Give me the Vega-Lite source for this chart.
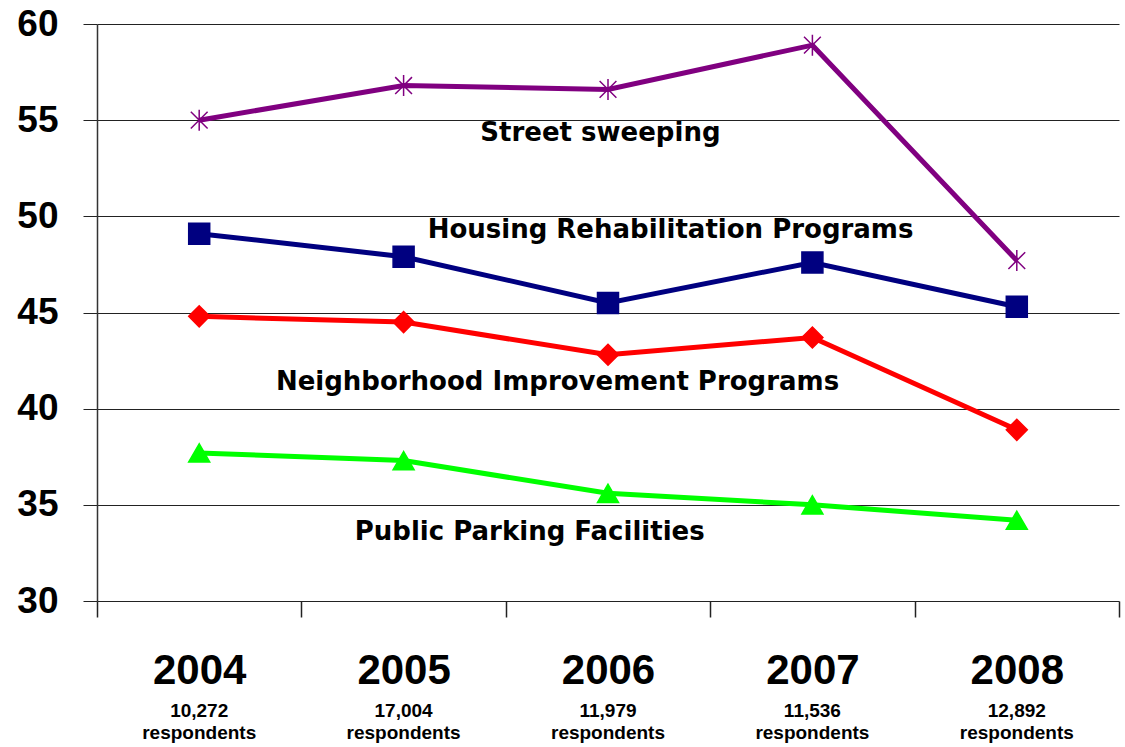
{
  "$schema": "https://vega.github.io/schema/vega-lite/v6.json",
  "width": 1022,
  "height": 577,
  "autosize": {"type": "none"},
  "padding": {"left": 97, "top": 24, "right": 6, "bottom": 146},
  "background": "white",
  "config": {"view": {"stroke": null}, "font": "Liberation Sans"},
  "data": {
    "values": [
      {"series": "Street sweeping", "year": 2004, "respondents": 10272, "value": 55.0},
      {"series": "Street sweeping", "year": 2005, "respondents": 17004, "value": 56.8},
      {"series": "Street sweeping", "year": 2006, "respondents": 11979, "value": 56.6},
      {"series": "Street sweeping", "year": 2007, "respondents": 11536, "value": 58.9},
      {"series": "Street sweeping", "year": 2008, "respondents": 12892, "value": 47.7},
      {"series": "Housing Rehabilitation Programs", "year": 2004, "respondents": 10272, "value": 49.1},
      {"series": "Housing Rehabilitation Programs", "year": 2005, "respondents": 17004, "value": 47.9},
      {"series": "Housing Rehabilitation Programs", "year": 2006, "respondents": 11979, "value": 45.5},
      {"series": "Housing Rehabilitation Programs", "year": 2007, "respondents": 11536, "value": 47.6},
      {"series": "Housing Rehabilitation Programs", "year": 2008, "respondents": 12892, "value": 45.3},
      {"series": "Neighborhood Improvement Programs", "year": 2004, "respondents": 10272, "value": 44.8},
      {"series": "Neighborhood Improvement Programs", "year": 2005, "respondents": 17004, "value": 44.5},
      {"series": "Neighborhood Improvement Programs", "year": 2006, "respondents": 11979, "value": 42.8},
      {"series": "Neighborhood Improvement Programs", "year": 2007, "respondents": 11536, "value": 43.7},
      {"series": "Neighborhood Improvement Programs", "year": 2008, "respondents": 12892, "value": 38.9},
      {"series": "Public Parking Facilities", "year": 2004, "respondents": 10272, "value": 37.7},
      {"series": "Public Parking Facilities", "year": 2005, "respondents": 17004, "value": 37.3},
      {"series": "Public Parking Facilities", "year": 2006, "respondents": 11979, "value": 35.6},
      {"series": "Public Parking Facilities", "year": 2007, "respondents": 11536, "value": 35.0},
      {"series": "Public Parking Facilities", "year": 2008, "respondents": 12892, "value": 34.2}
    ]
  },
  "encoding": {
    "y": {
      "field": "value",
      "type": "quantitative",
      "scale": {"domain": [30, 60], "nice": false, "zero": false},
      "axis": {
        "values": [30, 35, 40, 45, 50, 55, 60],
        "title": null,
        "grid": true,
        "gridColor": "#222222",
        "gridWidth": 1,
        "gridOpacity": 1,
        "domain": true,
        "domainColor": "#333333",
        "domainWidth": 1.5,
        "ticks": true,
        "tickSize": 14,
        "tickColor": "#222222",
        "tickWidth": 1,
        "labelFont": "Liberation Sans",
        "labelFontWeight": "bold",
        "labelFontSize": 37,
        "labelColor": "#000000",
        "labelPadding": 25
      }
    }
  },
  "layer": [
    {
      "mark": {"type": "line", "strokeWidth": 5},
      "encoding": {
        "x": {
          "field": "year",
          "type": "ordinal",
          "scale": {"type": "band", "paddingInner": 0, "paddingOuter": 0},
          "axis": {
            "orient": "bottom",
            "title": null,
            "domain": false,
            "grid": false,
            "ticks": true,
            "tickBand": "extent",
            "tickSize": 16,
            "tickColor": "#222222",
            "tickWidth": 1.5,
            "labelAngle": 0,
            "labelFont": "Liberation Sans",
            "labelFontWeight": "bold",
            "labelFontSize": 42,
            "labelColor": "#000000",
            "labelPadding": 33
          }
        },
        "color": {
          "field": "series",
          "type": "nominal",
          "scale": {
            "domain": ["Street sweeping", "Housing Rehabilitation Programs", "Neighborhood Improvement Programs", "Public Parking Facilities"],
            "range": ["#800080", "#000080", "#FF0000", "#00FF00"]
          },
          "legend": null
        }
      }
    },
    {
      "mark": {"type": "point", "filled": true, "size": 441, "strokeWidth": 1.5, "opacity": 1},
      "encoding": {
        "x": {
          "field": "respondents",
          "type": "ordinal",
          "sort": {"field": "year", "op": "min"},
          "scale": {"type": "band", "paddingInner": 0, "paddingOuter": 0},
          "axis": {
            "orient": "bottom",
            "title": null,
            "domain": false,
            "grid": false,
            "ticks": false,
            "labelAngle": 0,
            "labelExpr": "[format(datum.value, ','), 'respondents']",
            "labelFont": "Liberation Sans",
            "labelFontWeight": "bold",
            "labelFontSize": 19,
            "labelLineHeight": 22,
            "labelColor": "#000000",
            "labelPadding": 100
          }
        },
        "shape": {
          "field": "series",
          "type": "nominal",
          "scale": {
            "domain": ["Street sweeping", "Housing Rehabilitation Programs", "Neighborhood Improvement Programs", "Public Parking Facilities"],
            "range": ["M0,-1L0,1M-0.8,-0.8L0.8,0.8M-0.8,0.8L0.8,-0.8", "square", "diamond", "triangle-up"]
          },
          "legend": null
        },
        "fill": {
          "field": "series",
          "type": "nominal",
          "scale": {
            "domain": ["Street sweeping", "Housing Rehabilitation Programs", "Neighborhood Improvement Programs", "Public Parking Facilities"],
            "range": ["#800080", "#000080", "#FF0000", "#00FF00"]
          },
          "legend": null
        },
        "stroke": {
          "field": "series",
          "type": "nominal",
          "scale": {
            "domain": ["Street sweeping", "Housing Rehabilitation Programs", "Neighborhood Improvement Programs", "Public Parking Facilities"],
            "range": ["#800080", "#000080", "#FF0000", "#00FF00"]
          },
          "legend": null
        }
      }
    },
    {
      "data": {
        "values": [
          {"label": "Street sweeping", "xpos": 2.463, "value": 53.92},
          {"label": "Housing Rehabilitation Programs", "xpos": 2.806, "value": 48.87},
          {"label": "Neighborhood Improvement Programs", "xpos": 2.253, "value": 40.97},
          {"label": "Public Parking Facilities", "xpos": 2.117, "value": 33.17}
        ]
      },
      "mark": {"type": "text", "font": "DejaVu Sans", "fontWeight": "bold", "fontSize": 26, "align": "center", "baseline": "alphabetic", "color": "#000000"},
      "encoding": {
        "x": {"field": "xpos", "type": "quantitative", "scale": {"domain": [0, 5], "nice": false, "zero": false}, "axis": null},
        "text": {"field": "label", "type": "nominal"}
      }
    }
  ],
  "resolve": {"scale": {"x": "independent"}, "axis": {"x": "independent"}}
}
